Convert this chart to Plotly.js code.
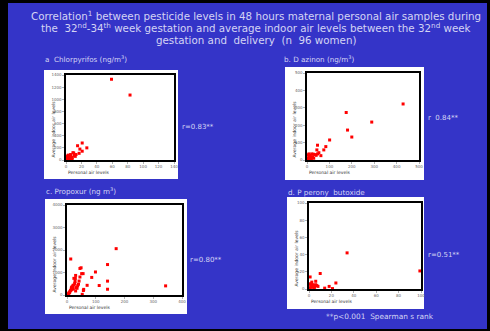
<!DOCTYPE html>
<html><head><meta charset="utf-8">
<script src="https://cdn.plot.ly/plotly-3.0.1.min.js"></script>
<style>html,body{margin:0;padding:0;background:#000;}#chart{width:490px;height:331px;}</style>
</head><body><div id="chart"></div>
<script>
// Data
const chlorpyrifosPersonal = [59, 83, 21, 27, 15, 18, 21, 17, 10, 9, 5, 11, 12, 8, 6, 4, 3, 7, 2, 1, 5, 3, 2, 4, 6, 1, 2, 3, 0.5, 1, 8, 13, 4, 2, 6, 1.5, 3];
const chlorpyrifosIndoor   = [1330, 1070, 280, 200, 235, 180, 145, 110, 115, 120, 75, 75, 60, 40, 90, 55, 30, 50, 20, 10, 35, 60, 45, 15, 25, 5, 65, 10, 3, 40, 20, 90, 70, 25, 5, 30, 80];
const diazinonPersonal = [429, 175, 289, 181, 200, 101, 84, 75, 47, 44, 53, 47, 62, 41, 29, 22, 35, 15, 10, 5, 20, 12, 8, 3, 25, 18, 6, 14, 2, 9, 30, 11, 16];
const diazinonIndoor   = [322, 273, 218, 172, 132, 115, 77, 58, 85, 58, 42, 35, 25, 27, 33, 35, 31, 23, 15, 5, 10, 28, 20, 8, 18, 5, 30, 12, 2, 35, 10, 18, 3];
const propoxurPersonal = [171, 13, 141, 45, 49, 99, 56, 51, 30, 86, 24, 29, 45, 42, 141, 112, 70, 343, 141, 58, 57, 53, 37, 21, 27, 33, 15, 10, 18, 5, 8, 25, 20, 12, 3, 35, 28, 6, 16, 22, 40, 9, 14, 2, 30];
const propoxurIndoor   = [2060, 1600, 1353, 1180, 1210, 1023, 950, 950, 870, 782, 740, 735, 800, 620, 617, 421, 430, 406, 256, 250, 200, 30, 410, 430, 520, 330, 300, 150, 250, 50, 100, 450, 380, 200, 20, 300, 600, 80, 350, 280, 480, 120, 220, 10, 180];
const pboPersonal = [34, 99, 10, 1, 6, 24, 18, 14, 21, 8, 4, 2, 5, 3, 1.5, 0.5, 2.5, 7, 1, 3, 0.3, 6, 4.5];
const pboIndoor   = [42, 21, 18, 14, 9, 7, 3, 1, 0.5, 3, 4.5, 6, 2, 5, 3, 1, 8, 4, 0.5, 2, 6, 5, 0.8];

const panelTitles = ["a  Chlorpyrifos (ng/m<sup>3</sup>)", "b. D azinon (ng/m<sup>3</sup>)", "c. Propoxur (ng m<sup>3</sup>)", "d. P perony  butoxide"];
const rLabels = ["r=0.83**", "r  0.84**", "r=0.80**", "r=0.51**"];
const xRanges = [[0,140],[0,500],[0,400],[0,100]];
const yRanges = [[0,1400],[0,500],[0,4000],[0,100]];
const xSteps = [20,100,100,20];
const ySteps = [200,100,1000,20];
const xTitle = "Personal air levels";
const yTitle = "Average indoor air levels";
const footnote = "**p<0.001  Spearman s rank";

const W = 490, H = 331;
const px = x => x / W, py = y => 1 - y / H;

// frame pixel boxes [x0,x1,y0,y1]
const frames = [[66,174,75,160],[307,419,73,160],[67,182,205,295],[309,421,203,289]];
const boxes = [[44,178,70,179],[285,424,67,180],[45,187,199,314],[287,424,197,309]];
const titlePos = [[43,59],[282,59],[44,191],[286,192]];
const rPos = [[180,127],[426,118],[188,260],[426,255]];

const xs = [chlorpyrifosPersonal, diazinonPersonal, propoxurPersonal, pboPersonal];
const ys = [chlorpyrifosIndoor, diazinonIndoor, propoxurIndoor, pboIndoor];

const traces = [];
const layout = {
  width: W, height: H, margin: {l:0,r:0,t:0,b:0},
  paper_bgcolor: '#000', plot_bgcolor: '#fff', showlegend: false,
  font: {family: 'DejaVu Sans, sans-serif'},
  shapes: [{type:'rect', xref:'paper', yref:'paper', x0:px(8), x1:px(487), y0:py(329), y1:py(3), fillcolor:'#3434C8', line:{width:0}, layer:'below'}],
  annotations: []
};
const titleLines = ["Correlation<sup>1</sup> between pesticide levels in 48 hours maternal personal air samples during",
  "the  32<sup>nd</sup>-34<sup>th</sup> week gestation and average indoor air levels between the 32<sup>nd</sup> week",
  "gestation and  delivery  (n  96 women)"];
const titleY = [15.5, 27.5, 39.5];
titleLines.forEach((t,i)=>layout.annotations.push({text:t, xref:'paper', yref:'paper', x:px(256), y:py(titleY[i]), xanchor:'center', yanchor:'middle', showarrow:false, font:{size:10.3, color:'#D4D4F4'}}));

for (let i=0;i<4;i++){
  const s = i===0 ? '' : String(i+1);
  traces.push({x: xs[i], y: ys[i], xaxis:'x'+s, yaxis:'y'+s, type:'scatter', mode:'markers', cliponaxis:false,
    marker:{symbol:'square', size:3, color:'#FF0000', line:{width:0}}, hoverinfo:'skip'});
  const f = frames[i];
  const ax = {domain:[px(f[0]), px(f[1])], range:xRanges[i], dtick:xSteps[i], tick0:0, showgrid:false, zeroline:false,
    showline:true, linecolor:'#000', linewidth:1.6, mirror:true, ticks:'outside', ticklen:2, tickwidth:0.5, tickcolor:'#666',
    tickfont:{size:4, color:'#666'}, anchor:'y'+s, fixedrange:true};
  const ay = {domain:[py(f[3]), py(f[2])], range:yRanges[i], dtick:ySteps[i], tick0:0, showgrid:false, zeroline:false,
    showline:true, linecolor:'#000', linewidth:1.6, mirror:true, ticks:'outside', ticklen:2, tickwidth:0.5, tickcolor:'#666',
    tickfont:{size:4, color:'#666'}, anchor:'x'+s, fixedrange:true};
  layout['xaxis'+s] = ax; layout['yaxis'+s] = ay;
  const b = boxes[i];
  layout.shapes.push({type:'rect', xref:'paper', yref:'paper', x0:px(b[0]), x1:px(b[1]), y0:py(b[3]), y1:py(b[2]), fillcolor:'#fff', line:{width:0}, layer:'below'});
  layout.annotations.push({text:panelTitles[i], xref:'paper', yref:'paper', x:px(titlePos[i][0]), y:py(titlePos[i][1]), xanchor:'left', yanchor:'middle', showarrow:false, font:{size:7.2, color:'#D4D4F4'}});
  layout.annotations.push({text:rLabels[i], xref:'paper', yref:'paper', x:px(rPos[i][0]), y:py(rPos[i][1]), xanchor:'left', yanchor:'middle', showarrow:false, font:{size:7, color:'#D4D4F4'}});
  layout.annotations.push({text:xTitle, xref:'paper', yref:'paper', x:px(f[0]), y:py(f[3]+12), xanchor:'left', yanchor:'middle', showarrow:false, font:{size:4.5, color:'#333'}});
  layout.annotations.push({text:yTitle, xref:'paper', yref:'paper', x:px(f[0]-13), y:py(f[3]), xanchor:'center', yanchor:'bottom', textangle:-90, showarrow:false, font:{size:4.5, color:'#333'}});
}
layout.annotations.push({text:footnote, xref:'paper', yref:'paper', x:px(324), y:py(316), xanchor:'left', yanchor:'middle', showarrow:false, font:{size:7.4, color:'#D4D4F4'}});

Plotly.newPlot('chart', traces, layout, {staticPlot:true, displayModeBar:false});
</script></body></html>
